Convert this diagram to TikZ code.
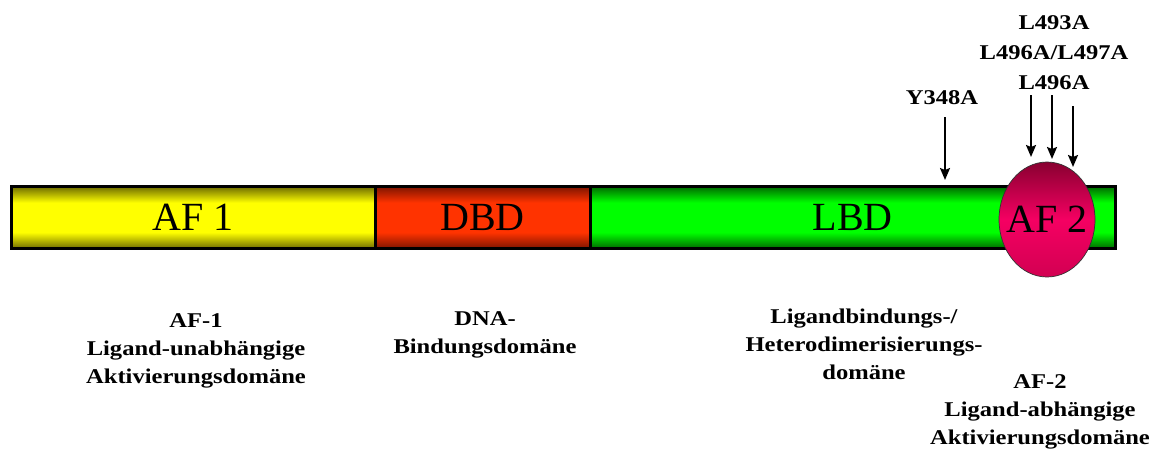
\documentclass[tikz,border=0pt]{standalone}
\usepackage{fontspec}
\setmainfont{Liberation Serif}
\newfontfamily\labfont[FakeStretch=1.17]{Liberation Serif}
\usetikzlibrary{shapes.geometric,arrows.meta}
\definecolor{yedge}{HTML}{6E6C00}
\definecolor{ymid}{HTML}{FFFF00}
\definecolor{redge}{HTML}{7E1400}
\definecolor{rmid}{HTML}{FF3300}
\definecolor{gedge}{HTML}{006A00}
\definecolor{gmid}{HTML}{00FF00}
\definecolor{ptop}{HTML}{880030}
\definecolor{pmid}{HTML}{F50062}
\definecolor{pbot}{HTML}{D20052}
\pgfdeclareverticalshading{yshade}{100bp}{color(0bp)=(yedge); color(25bp)=(yedge); color(38bp)=(ymid); color(62bp)=(ymid); color(75bp)=(yedge); color(100bp)=(yedge)}
\pgfdeclareverticalshading{rshade}{100bp}{color(0bp)=(redge); color(25bp)=(redge); color(38bp)=(rmid); color(62bp)=(rmid); color(75bp)=(redge); color(100bp)=(redge)}
\pgfdeclareverticalshading{gshade}{100bp}{color(0bp)=(gedge); color(25bp)=(gedge); color(38bp)=(gmid); color(62bp)=(gmid); color(75bp)=(gedge); color(100bp)=(gedge)}
\tikzset{
  seg/.style={draw=black, line width=3pt, rectangle, inner sep=0pt,
    minimum height=62pt, font=\fontsize{40}{44}\selectfont},
  lab/.style={inner sep=0pt, align=center,
    font=\labfont\bfseries\fontsize{21}{28}\selectfont},
  arr/.style={line width=1.8pt, -{Stealth[length=12pt,width=10pt,inset=2pt]}},
}
\begin{document}
\begin{tikzpicture}[x=1pt,y=-1pt]
\useasboundingbox (0,0) rectangle (1155,461);
% domain bar
\node[seg, minimum width=363.5pt, shading=yshade] (af1) at (193.25,217.5) {AF 1};
\node[seg, minimum width=215pt, shading=rshade] (dbd) at (482.5,217.5) {DBD};
\node[seg, minimum width=525.5pt, shading=gshade] (lbd) at (852.75,217.5) {LBD};
% AF-2 ellipse
\node[ellipse, draw=black!80, line width=0.7pt, minimum width=96pt, minimum height=115pt, inner sep=0pt,
  top color=ptop, bottom color=pbot, middle color=pmid,
  label={[font=\fontsize{40}{44}\selectfont, inner sep=0pt]center:AF 2}] (af2) at (1047,219.5) {};
% top labels
\node[lab, anchor=base] (ylab) at (942,104) {Y348A};
\node[lab, anchor=north, font=\labfont\bfseries\fontsize{21}{30}\selectfont] (llab) at (1054,15) {L493A\\L496A/L497A\\L496A};
% arrows
\coordinate (ys) at (945,117); \coordinate (ye) at (945,180);
\coordinate (a1s) at (1031,95); \coordinate (a1e) at (1031,157);
\coordinate (a2s) at (1052,95); \coordinate (a2e) at (1052,159);
\coordinate (a3s) at (1073,106); \coordinate (a3e) at (1073,167);
\draw[arr] (ys) -- (ye);
\draw[arr] (a1s) -- (a1e);
\draw[arr] (a2s) -- (a2e);
\draw[arr] (a3s) -- (a3e);
% bottom labels
\node[lab, anchor=north] (af1lab) at (196,313) {AF-1\\Ligand-unabhängige\\Aktivierungsdomäne};
\node[lab, anchor=north] (dbdlab) at (485,311) {DNA-\\Bindungsdomäne};
\node[lab, anchor=north] (lbdlab) at (864,308.5) {Ligandbindungs-/\\Heterodimerisierungs-\\domäne};
\node[lab, anchor=north] (af2lab) at (1040,374) {AF-2\\Ligand-abhängige\\Aktivierungsdomäne};
\end{tikzpicture}
\end{document}
